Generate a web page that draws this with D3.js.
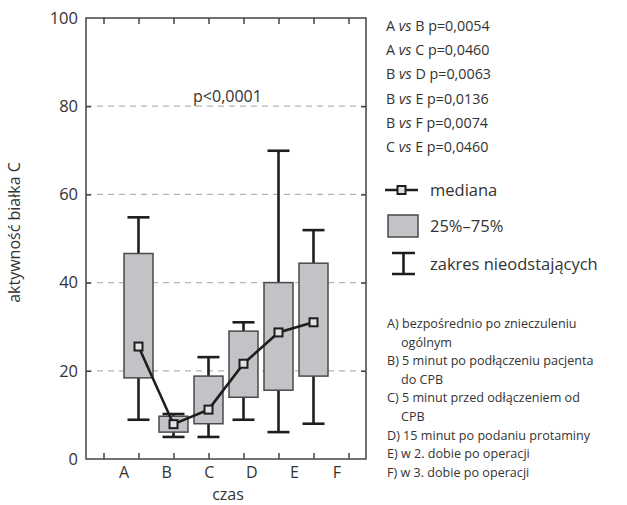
<!DOCTYPE html>
<html>
<head>
<meta charset="utf-8">
<script src="https://cdn.jsdelivr.net/npm/d3@7"></script>
<style>
  body { margin: 0; background: #fff; }
  text { font-family: "Open Sans", sans-serif; fill: #333; }
</style>
</head>
<body>
<div id="chart"></div>
<script>
const categories = ["A", "B", "C", "D", "E", "F"];
const whiskerLow = [8.9, 5.0, 5.0, 8.9, 6.1, 8.0];
const q1 = [18.4, 6.1, 8.0, 14.0, 15.6, 18.8];
const median = [25.5, 7.9, 11.2, 21.6, 28.7, 31.0];
const q3 = [46.6, 9.7, 18.8, 29.0, 40.0, 44.4];
const whiskerHigh = [54.8, 10.2, 23.1, 31.0, 69.9, 51.9];

const yTicks = [0, 20, 40, 60, 80, 100];
const gridValues = [20, 40, 60, 80];
const xSlots = [0, 1, 2, 3, 4, 5, 6, 7];

const comparisons = [
    ["A", "B", "0,0054"],
    ["A", "C", "0,0460"],
    ["B", "D", "0,0063"],
    ["B", "E", "0,0136"],
    ["B", "F", "0,0074"],
    ["C", "E", "0,0460"]
];
const legendLabels = ["mediana", "25%–75%", "zakres nieodstających"];
const footnotes = [
    ["A) bezpośrednio po znieczuleniu", false],
    ["ogólnym", true],
    ["B) 5 minut po podłączeniu pacjenta", false],
    ["do CPB", true],
    ["C) 5 minut przed odłączeniem od", false],
    ["CPB", true],
    ["D) 15 minut po podaniu protaminy", false],
    ["E) w 2. dobie po operacji", false],
    ["F) w 3. dobie po operacji", false]
];

const W = 627, H = 505;
const plot = {left: 86, right: 366, top: 18, bottom: 459};

const svg = d3.select("#chart")
    .append("svg")
    .attr("width", W)
    .attr("height", H);

const x = d3.scaleLinear().domain([-0.5, 7.5]).range([plot.left, plot.right]);
const y = d3.scaleLinear().domain([0, 100]).range([plot.bottom, plot.top]);
const xLabel = d3.scalePoint().domain(categories).range([124, 337]);

const boxes = categories.map((c, i) => ({
    cat: c, pos: i + 1,
    lo: whiskerLow[i], q1: q1[i], med: median[i], q3: q3[i], hi: whiskerHigh[i]
}));

// grid
svg.append("g")
    .selectAll("line")
    .data(gridValues)
    .join("line")
    .attr("x1", plot.left)
    .attr("x2", plot.right)
    .attr("y1", d => y(d))
    .attr("y2", d => y(d))
    .attr("stroke", "#b5b5b5")
    .attr("stroke-width", 1.2)
    .attr("stroke-dasharray", "6,5");

// frame
svg.append("rect")
    .attr("x", plot.left)
    .attr("y", plot.top)
    .attr("width", plot.right - plot.left)
    .attr("height", plot.bottom - plot.top)
    .attr("fill", "none")
    .attr("stroke", "#444")
    .attr("stroke-width", 1.5);

// inward ticks
const tickStyle = g => g.call(s => s.select(".domain").remove())
    .call(s => s.selectAll("line").attr("stroke", "#444").attr("stroke-width", 1.5));
svg.append("g")
    .attr("transform", `translate(0,${plot.bottom})`)
    .call(d3.axisTop(x).tickValues(xSlots).tickSize(6).tickFormat(""))
    .call(tickStyle);
svg.append("g")
    .attr("transform", `translate(0,${plot.top})`)
    .call(d3.axisBottom(x).tickValues(xSlots).tickSize(6).tickFormat(""))
    .call(tickStyle);
svg.append("g")
    .attr("transform", `translate(${plot.right},0)`)
    .call(d3.axisLeft(y).tickValues(gridValues).tickSize(5).tickFormat(""))
    .call(tickStyle);
svg.append("g")
    .attr("transform", `translate(${plot.left},0)`)
    .call(d3.axisRight(y).tickValues(gridValues).tickSize(5).tickFormat(""))
    .call(tickStyle);

// y labels
svg.append("g")
    .attr("transform", `translate(${plot.left},0)`)
    .call(d3.axisLeft(y).tickValues(yTicks).tickSize(0).tickPadding(8))
    .call(g => g.select(".domain").remove())
    .call(g => g.selectAll("text")
        .attr("font-size", 16.5)
        .attr("font-family", "Open Sans")
        .attr("fill", "#333"));

// x labels
svg.append("g")
    .selectAll("text")
    .data(categories)
    .join("text")
    .attr("x", d => xLabel(d))
    .attr("y", 478)
    .attr("text-anchor", "middle")
    .attr("font-size", 16)
    .text(d => d);

svg.append("text")
    .attr("x", 228)
    .attr("y", 500)
    .attr("text-anchor", "middle")
    .attr("font-size", 16)
    .text("czas");

svg.append("text")
    .attr("transform", "translate(20,232.5) rotate(-90)")
    .attr("text-anchor", "middle")
    .attr("font-size", 16)
    .text("aktywność białka C");

svg.append("text")
    .attr("x", 227.5)
    .attr("y", 102)
    .attr("text-anchor", "middle")
    .attr("font-size", 16)
    .text("p<0,0001");

// whiskers
const boxW = 29, capW = 22;
const wg = svg.append("g").attr("stroke", "#1e1e1e").attr("stroke-width", 2.6);
wg.selectAll(".stem")
    .data(boxes)
    .join("line")
    .attr("x1", d => x(d.pos)).attr("x2", d => x(d.pos))
    .attr("y1", d => y(d.lo)).attr("y2", d => y(d.hi));
wg.selectAll(".capHi")
    .data(boxes)
    .join("line")
    .attr("x1", d => x(d.pos) - capW / 2).attr("x2", d => x(d.pos) + capW / 2)
    .attr("y1", d => y(d.hi)).attr("y2", d => y(d.hi));
wg.selectAll(".capLo")
    .data(boxes)
    .join("line")
    .attr("x1", d => x(d.pos) - capW / 2).attr("x2", d => x(d.pos) + capW / 2)
    .attr("y1", d => y(d.lo)).attr("y2", d => y(d.lo));

// boxes
svg.append("g")
    .selectAll("rect")
    .data(boxes)
    .join("rect")
    .attr("x", d => x(d.pos) - boxW / 2)
    .attr("width", boxW)
    .attr("y", d => y(d.q3))
    .attr("height", d => y(d.q1) - y(d.q3))
    .attr("fill", "#c2c3c7")
    .attr("stroke", "#4a4a4a")
    .attr("stroke-width", 1.5);

// median line + markers
svg.append("path")
    .datum(boxes)
    .attr("fill", "none")
    .attr("stroke", "#1e1e1e")
    .attr("stroke-width", 2.6)
    .attr("d", d3.line().x(d => x(d.pos)).y(d => y(d.med)));

svg.append("g")
    .selectAll("rect")
    .data(boxes)
    .join("rect")
    .attr("x", d => x(d.pos) - 4)
    .attr("y", d => y(d.med) - 4)
    .attr("width", 8)
    .attr("height", 8)
    .attr("fill", "#e2e2e2")
    .attr("stroke", "#1e1e1e")
    .attr("stroke-width", 2);

// comparisons
const cmp = svg.append("g").attr("font-size", 14.3);
comparisons.forEach((c, i) => {
    const t = cmp.append("text").attr("x", 386).attr("y", 31 + i * 24.2);
    t.append("tspan").text(c[0] + " ");
    t.append("tspan").attr("font-style", "italic").text("vs");
    t.append("tspan").text(" " + c[1] + " p=" + c[2]);
});

// legend
const lg = svg.append("g");
lg.append("line")
    .attr("x1", 385).attr("x2", 418).attr("y1", 190).attr("y2", 190)
    .attr("stroke", "#1e1e1e").attr("stroke-width", 2.6);
lg.append("rect")
    .attr("x", 397.5).attr("y", 186).attr("width", 8).attr("height", 8)
    .attr("fill", "#e2e2e2").attr("stroke", "#1e1e1e").attr("stroke-width", 2);
lg.append("rect")
    .attr("x", 388).attr("y", 215).attr("width", 30).attr("height", 22)
    .attr("fill", "#c2c3c7").attr("stroke", "#4a4a4a").attr("stroke-width", 1.5);
lg.append("path")
    .attr("d", "M392,253H415M403.5,253V274M392,274H415")
    .attr("fill", "none").attr("stroke", "#1e1e1e").attr("stroke-width", 2.6);
lg.selectAll("text")
    .data(legendLabels)
    .join("text")
    .attr("x", 430)
    .attr("y", (d, i) => [196, 232, 270][i])
    .attr("font-size", 16.5)
    .text(d => d);

// footnotes
svg.append("g")
    .selectAll("text")
    .data(footnotes)
    .join("text")
    .attr("x", d => d[1] ? 401 : 387)
    .attr("y", (d, i) => 328 + i * 18.6)
    .attr("font-size", 12.6)
    .text(d => d[0]);
</script>
</body>
</html>
